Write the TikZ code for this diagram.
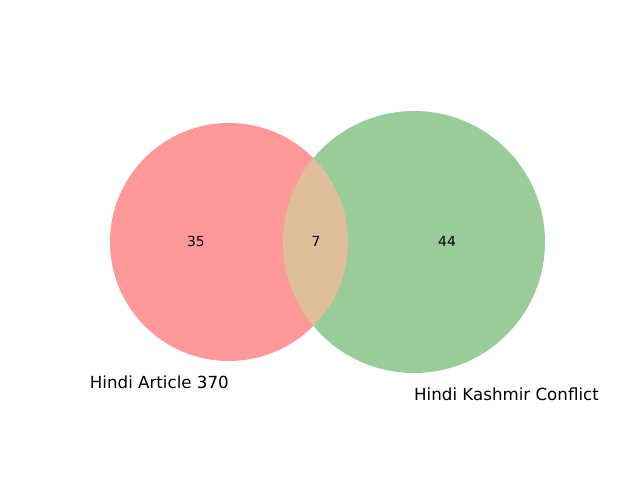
\documentclass[tikz,border=0pt]{standalone}
\usepackage{fontspec}
\setmainfont{DejaVu Sans}
\definecolor{setA}{RGB}{255,153,153}
\definecolor{setB}{RGB}{153,204,153}
\definecolor{setAB}{RGB}{224,190,153}
\begin{document}
\begin{tikzpicture}[x=1pt,y=-1pt,
  num/.style={font=\fontsize{13.9}{16}\selectfont, inner sep=0pt},
  lab/.style={font=\fontsize{16.67}{20}\selectfont, inner sep=0pt}]
\useasboundingbox (0,0) rectangle (640,480);
\fill[setA] (229,242) circle (119);
\fill[setB] (414,242) circle (131);
\begin{scope}
  \clip (229,242) circle (119);
  \fill[setAB] (414,242) circle (131);
\end{scope}
\node[num] (n35) at (196,241) {35};
\node[num] (n7) at (316,241) {7};
\node[num] (n44) at (447,241) {44};
\node[lab, anchor=east] (la) at (229,382) {Hindi Article 370};
\node[lab, anchor=west] (lb) at (414,394) {Hindi Kashmir Conflict};
\end{tikzpicture}
\end{document}
